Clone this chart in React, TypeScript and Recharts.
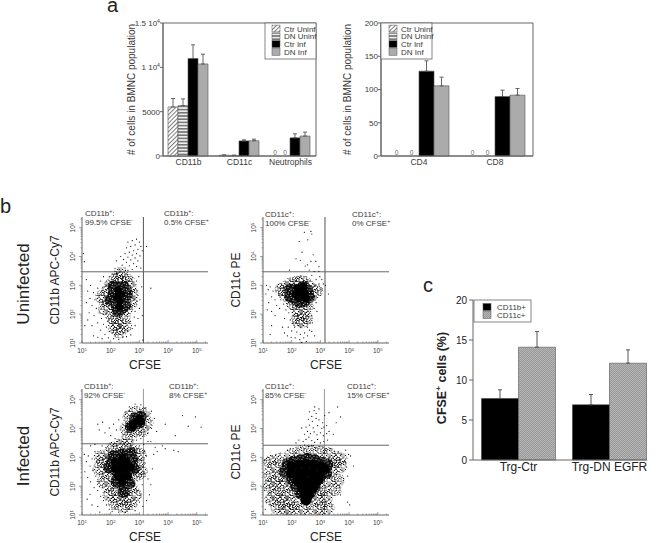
import React from 'react'
import {
  BarChart, Bar, XAxis, YAxis, ErrorBar, ScatterChart, Scatter, ReferenceLine, ReferenceArea, Rectangle,
} from 'recharts'

const FONT = '"Liberation Sans", Arial, sans-serif'
const INK = '#3a3a3a'
const AXIS = '#666'

// panel a, left
const cellCats = ['CD11b', 'CD11c', 'Neutrophils']
const cellCtrUninf = [5530, 90, 0]
const cellDnUninf = [5680, 70, 0]
const cellCtrInf = [10985, 1700, 2050]
const cellDnInf = [10380, 1720, 2250]
const cellCtrUninfErr = [950, 30, null]
const cellDnUninfErr = [760, 20, null]
const cellCtrInfErr = [1550, 120, 450]
const cellDnInfErr = [1100, 180, 440]
const cellTicks = [0, 5000, 10000, 15000]

// panel a, right
const tCats = ['CD4', 'CD8']
const tCtrUninf = [0, 0]
const tDnUninf = [0, 0]
const tCtrInf = [127.6, 89.4]
const tDnInf = [105.5, 91.5]
const tCtrInfErr = [15.5, 9.6]
const tDnInfErr = [13.1, 10]
const tTicks = [0, 50, 100, 150, 200]

// panel c
const cfseCats = ['Trg-Ctr', 'Trg-DN EGFR']
const cfseCd11b = [7.69, 6.9]
const cfseCd11c = [14.1, 12.1]
const cfseCd11bErr = [1.08, 1.29]
const cfseCd11cErr = [1.95, 1.66]
const cfseTicks = [0, 5, 10, 15, 20]

// panel b: events as decade positions
const decadeTicks = [1, 2, 3, 4, 5]
const minorSteps = [2, 3, 4, 5, 6, 7, 8, 9]

const p1Solid = [[2.28,2.65],[2.32,2.45],[2.2,2.55],[2.38,2.7],[2.25,2.85],[2.3,2.25]]
const p1Core = [[2.25,2.6],[2.35,2.45],[2.15,2.45],[2.3,2.75],[2.4,2.7],[2.2,2.3],[2.35,2.2],[2.1,2.7],[2.45,2.5],[2.28,2.92],[2.25,2.1],[2,2.5],[2.55,2.7],[2.5,2.3],[2.1,2.95],[2.45,2.95]]
const p1Mid = [[1.85,2.5],[1.9,2.8],[1.95,2.3],[2,3],[2.05,1.95],[2.15,1.8],[2.2,3.2],[2.3,1.6],[2.3,3.25],[2.4,3.05],[2.45,1.9],[2.55,2.2],[2.6,2.7],[2.65,2.95],[2.7,2.4],[2.35,3.4],[2.3,1.4],[1.8,2.2],[1.7,2.6],[2.75,2.7],[2.15,1.55],[2.5,1.6],[2.6,3.15]]
const p1Sparse = [[2.9,4.6],[2.75,4.55],[2.6,4.5],[3,4.5],[2.85,4.4],[2.7,4.35],[3.05,4.35],[2.55,4.3],[2.95,4.25],[2.8,4.2],[2.65,4.15],[3.1,4.2],[2.5,4.1],[2.9,4.1],[2.75,4.05],[3.02,4.02],[2.6,3.98],[2.85,3.95],[2.45,3.9],[2.7,3.88],[2.95,3.85],[2.55,3.8],[2.8,3.75],[2.4,3.7],[2.65,3.68],[2.9,3.65],[2.5,3.6],[2.75,3.55],[2.3,3.55],[2.6,3.52],[3.05,3.6],[2.15,3.58],[3.25,4.35],[1.08,3.82],[1.05,4.1],[2.2,3.85],[2.35,4],[3.4,2.9],[1.15,3.2],[1.3,3],[1.2,2.8],[1.4,2.75],[1.28,2.55],[1.45,2.5],[1.15,2.4],[1.55,2.9],[1.6,2.65],[1.35,2.3],[1.5,2.2],[1.25,2.05],[1.6,2.05],[1.42,1.95],[1.68,1.85],[1.2,1.8],[1.55,1.7],[1.75,1.65],[1.35,1.6],[1.85,1.55],[1.1,1.6],[1.65,1.45],[1.95,1.4],[2.05,1.35],[1.8,1.3],[2.15,1.28],[2.3,1.3],[2.45,1.35],[1.92,1.18],[2.1,1.15],[2.28,1.12],[2.42,1.2],[2.6,1.4],[2.75,1.5],[2.55,1.22],[2.7,1.28],[2.85,1.6],[2.95,1.85],[3,2.2],[3.02,2.5],[2.92,2.45],[3.1,1.95],[3.08,2.95],[2.9,3.15],[2.98,3.3],[1.85,3.15],[1.95,3.3],[1.75,3.3],[2.05,3.4],[1.65,3.15],[1.9,1.75],[1.75,2],[2.85,2.1],[2.82,1.9],[2.68,1.75],[3.12,1.1],[1.55,1.2],[1.4,1.25],[1.7,1.15],[2.88,3.02],[2.72,3.2],[2.62,3.3]]

const p2Solid = [[2.3,2.75],[2.15,2.7],[2.45,2.75],[2.25,2.55],[2.4,2.95],[2.2,2.9],[2.5,2.55]]
const p2Core = [[2.3,2.75],[2.18,2.7],[2.42,2.8],[2.3,2.58],[2.15,2.85],[2.45,2.65],[2.28,2.42],[2.4,2.95],[2.05,2.72],[1.95,2.85],[2.55,2.8],[2.6,2.6],[2.15,2.5],[2.45,2.45],[1.95,2.6]]
const p2Mid = [[1.85,2.95],[1.9,2.6],[2,3.05],[2.05,2.35],[2.2,3.1],[2.2,2.15],[2.35,2],[2.35,3.1],[2.52,2.25],[2.55,3],[2.65,2.6],[2.7,2.85],[2.35,1.75],[1.75,2.75],[1.65,2.85],[2.85,2.8],[2.2,1.8],[2.5,1.85]]
const p2Sparse = [[2.44,4.84],[2.67,4.87],[2.7,4.78],[2.26,4.52],[2.56,4.58],[2.36,4.15],[2.15,3.92],[2.3,3.87],[2.75,4.06],[2.67,3.83],[2.55,3.71],[2.84,3.83],[2.95,3.65],[1.92,3.53],[2.47,3.67],[2.61,3.53],[2.78,3.48],[2.95,3.48],[1.12,3],[1.18,2.85],[1.1,2.7],[1.25,2.95],[1.3,2.6],[1.2,2.4],[1.35,2.8],[1.42,2.5],[1.5,2.95],[1.55,2.7],[1.48,2.3],[1.62,2.5],[1.65,3.05],[1.58,2.2],[1.72,2.35],[1.3,2.1],[1.15,2.15],[1.42,1.95],[1.8,2.15],[1.9,2.05],[1.75,1.85],[1.95,1.8],[2.05,1.95],[2.05,1.7],[2.15,1.8],[1.88,1.55],[2.1,1.55],[2.2,1.62],[2.3,1.55],[2.4,1.6],[2.5,1.75],[2.55,1.55],[2.6,1.9],[2.65,2.1],[2.78,2.2],[2.85,2.4],[2.92,2.7],[2.95,3.05],[3.02,2.85],[3.05,3.2],[2.98,3.3],[3.1,3.05],[3.18,3],[3.28,2.7],[2.85,3.2],[2.3,3.32],[2.5,3.3],[2.15,3.28],[2.7,3.35],[1.95,3.22],[2.88,2.1],[2.72,1.7],[2.62,1.45],[2.45,1.35],[2.3,1.3],[2.18,1.38],[2,1.42],[1.75,1.35],[1.68,1.55],[2.12,1.18],[2.28,1.12],[2.42,1.18],[2.55,1.25],[2.7,1.4],[2.8,1.25],[1.25,1.3],[1.3,1.6],[1.85,1.25],[1.98,1.2],[2.35,1.02],[2.52,1.05]]

const p3Solid = [[2.15,2.85],[2.35,2.85],[2.55,2.85],[2.15,2.6],[2.35,2.6],[2.55,2.6],[2.7,2.65],[2.25,2.35],[2.45,2.35],[2.6,2.35],[2.4,2.15],[2.42,3],[2.92,4.25],[2.8,4.15],[3,4.35],[2.75,4.05],[3.05,4.25]]
const p3Core = [[2.4,2.7],[2.25,2.75],[2.55,2.75],[2.3,2.95],[2.5,3],[2.15,2.6],[2.65,2.6],[2.4,2.4],[2.25,2.35],[2.55,2.3],[2.4,3.1],[2.05,2.85],[2.75,2.9],[2.4,2.05],[2.45,1.8],[2.92,4.25],[2.8,4.15],[3.05,4.4],[2.7,4.05],[3,4.2],[2.85,4.35],[1.95,2.65],[2.8,2.6],[2.1,3.05],[2.7,3.15],[2.2,2.15],[2.65,2.1]]
const p3Mid = [[1.75,2.85],[1.85,2.4],[1.9,3.05],[2,2.05],[2.05,3.3],[2.15,1.75],[2.3,1.55],[2.3,3.4],[2.55,1.5],[2.55,3.4],[2.72,1.9],[2.8,3.2],[2.9,2.4],[2.95,2.8],[1.95,2.6],[2.45,1.3],[2.6,3.65],[2.55,4],[2.65,4.4],[2.85,4.55],[3.15,4.5],[3.25,4.2],[3.1,3.95],[2.85,3.9],[1.6,2.6],[1.65,3],[1.75,2.15],[3,3.1],[3.05,2.5],[1.95,1.7],[2.85,1.7],[2.15,1.4],[2.7,1.4]]
const p3Sparse = [[1.08,3.1],[1.15,2.85],[1.1,2.5],[1.22,3.05],[1.28,2.7],[1.2,2.3],[1.35,2.95],[1.38,2.55],[1.3,2.15],[1.45,3.2],[1.5,2.85],[1.48,2.35],[1.42,1.95],[1.55,2.65],[1.58,3.05],[1.6,2.15],[1.55,1.85],[1.65,1.65],[1.72,2.05],[1.75,1.5],[1.8,1.8],[1.85,1.35],[1.9,1.6],[1.95,1.2],[2.02,1.45],[2.05,1.12],[2.15,1.25],[2.28,1.1],[2.38,1.18],[2.5,1.1],[2.6,1.2],[2.72,1.3],[2.85,1.15],[2.85,1.6],[2.95,1.85],[3,1.45],[3.1,2.05],[3.12,1.3],[3.15,2.45],[3.2,2.8],[3.18,3.2],[3.25,3.05],[3.3,2.25],[3.35,1.7],[3.45,2.6],[3.55,3.35],[3.62,3.2],[3.15,3.45],[3,3.4],[2.9,3.6],[3.05,3.65],[2.75,3.6],[2.3,3.6],[2.15,3.65],[2,3.75],[2.2,3.95],[2.1,4.15],[1.95,4.02],[1.6,3.95],[1.55,4.15],[1.72,4.22],[1.8,3.85],[1.45,3.45],[1.3,3.4],[1.7,3.4],[2.28,4.3],[2.5,4.55],[2.65,4.75],[2.85,4.85],[3.05,4.82],[3.2,4.72],[3.42,4.6],[3.52,4.35],[3.42,4],[3.3,3.85],[3.6,3.9],[3.9,4.15],[4.25,3.75],[4.5,4.45],[4.95,4.4],[5.15,4.05],[4.7,4.08],[3.8,3.4],[4.2,3.25],[4.35,3.2],[3.9,3.3],[3.5,3.1],[3.4,2.05],[3.25,1.5],[3.05,1.7],[1.18,1.55],[1.35,1.35],[1.55,1.3],[1.62,1.1],[1.28,1.72],[3.4,3.55],[3.3,3.55],[2.45,3.62],[2.2,3.55]]

const p4Solid = [[2,2.7],[2.25,2.75],[2.5,2.78],[2.75,2.75],[3,2.7],[3.15,2.6],[2,2.45],[2.25,2.45],[2.5,2.5],[2.75,2.45],[3,2.4],[2.2,2.2],[2.45,2.2],[2.7,2.2],[2.9,2.2],[2.35,1.95],[2.55,1.95],[2.75,1.95],[2.45,1.7],[2.6,1.7],[2.5,1.5]]
const p4Core = [[1.85,2.75],[2.05,2.85],[2.3,2.9],[2.55,2.95],[2.8,2.9],[3.05,2.8],[3.25,2.75],[1.75,2.5],[2,2.55],[2.25,2.6],[2.5,2.65],[2.75,2.6],[3,2.55],[3.2,2.45],[2,2.25],[2.25,2.3],[2.5,2.35],[2.75,2.3],[2.95,2.25],[2.15,2],[2.4,2],[2.6,2],[2.8,2],[2.3,1.75],[2.5,1.7],[2.65,1.8],[2.5,1.55]]
const p4Mid = [[1.4,2.7],[1.5,2.3],[1.6,2.9],[1.65,2],[1.8,1.7],[1.95,1.45],[2.15,1.25],[2.4,1.22],[2.7,1.25],[2.9,1.55],[3.1,1.85],[3.3,2.2],[3.45,2.6],[3.5,2.9],[3.3,3.1],[3,3.15],[2.65,3.2],[2.3,3.15],[1.95,3.05],[1.8,2.2],[2,1.8],[2.85,1.75],[1.25,2.4],[1.25,2.85],[1.25,2],[1.3,1.55],[1.4,2.1],[1.45,1.7],[1.5,1.25],[1.65,1.5],[1.75,1.22],[1.95,1.22],[3.2,1.6],[3.25,1.25],[3,1.22],[3.6,2.2],[3.7,2.7],[3.5,1.9],[3.7,2.95]]
const p4Sparse = [[1.05,2.9],[1.08,2.6],[1.1,2.2],[1.05,1.85],[1.12,1.5],[1.08,1.2],[1.18,3],[1.22,2.05],[1.2,1.75],[1.25,1.35],[1.32,3.05],[1.38,1.9],[1.35,1.6],[1.42,1.2],[1.45,3.1],[1.5,1.75],[1.52,1.45],[1.58,1.12],[1.6,3.15],[1.65,1.62],[1.72,1.25],[1.85,3.25],[1.95,3.3],[2.05,3.3],[2.15,3.35],[2.3,3.4],[2.45,3.42],[2.6,3.38],[2.75,3.4],[2.85,3.35],[2.95,3.38],[3.1,3.35],[3.2,3.3],[3.35,3.3],[3.48,3.2],[3.62,3.2],[3.72,3.1],[3.88,3.25],[3.98,3.1],[4.05,3.05],[4.15,2.7],[3.85,2.85],[3.75,2.55],[3.95,2.35],[3.8,2.2],[3.65,2.05],[3.55,1.85],[3.7,1.7],[3.95,1.45],[4.02,1.35],[3.4,1.75],[3.3,1.55],[3.4,1.3],[3.15,1.3],[3.05,1.12],[2.85,1.08],[2.45,1.05],[1.75,1.1],[2.15,3.5],[2.25,3.6],[2.4,3.55],[2.5,3.62],[2.6,3.7],[2.7,3.58],[2.8,3.52],[2.9,3.62],[3,3.5],[3.12,3.55],[3.25,3.6],[2.45,3.8],[2.55,3.9],[2.65,3.82],[2.78,3.88],[2.88,3.78],[3,3.85],[3.1,3.75],[3.22,3.82],[3.3,3.9],[3.45,3.8],[2.35,4.02],[2.5,4.05],[2.62,4.12],[2.75,4.02],[2.9,4.1],[3.05,4],[3.12,4.05],[3.22,4.1],[3.08,4.2],[2.72,4.25],[2.58,4.32],[2.7,4.42],[2.85,4.35],[2.95,4.3],[2.62,4.58],[2.78,4.62],[2.85,4.52],[2.95,4.68],[3.15,4.45],[3.3,4.55],[3.6,4.75],[3.55,4.2],[3.7,4.4],[2.8,4.75]]

const swatchNames = ['Ctr Uninf', 'DN Uninf', 'Ctr Inf', 'DN Inf']
const swatchFills = ['url(#hatchDiag)', 'url(#hatchFlat)', '#000', '#ababab']
const cfseNames = ['CD11b+', 'CD11c+']
const cfseFills = ['#000', 'url(#stipple)']

const minorTicks = decadeTicks.flatMap((d) => minorSteps.map((m) => d + Math.log10(m))).filter((t) => t < 5.39)
const facsTicks = [...decadeTicks, ...minorTicks]

// tile for the speckled areas of the dot plots
const speckLight = [[1,1],[4,2],[7,0.5],[10,2.5],[13,1],[2.5,4],[6,4.5],[9,5],[12,4],[0.5,7],[4,7.5],[7.5,7],[11,7.5],[13.5,6.5],[2,10],[5.5,10],[8.5,9.5],[12,10],[1,13],[4,12.5],[7,13],[10,12.5],[13,13],[5,5.8],[9.5,11],[3,8.8],[2.6,0.4],[5.5,1.4],[8.5,2],[11.5,0.6],[0.8,2.8],[4.2,3.6],[7.4,3.4],[10.6,4.2],[13.4,3],[1.6,5.6],[7.2,5.4],[11,5.8],[2.4,7],[6,8.2],[9.4,8],[12.8,8.4],[0.6,9.4],[7,10.8],[10.8,9.4],[3,11.6],[5.8,12.4],[8.6,12],[12,12]]
const speckHoles = [[2,2],[6.5,1.2],[11,3],[4,6],[9,7],[13,8],[1.5,10],[6,11.5],[11,12.5],[8,4],[4.2,0.6],[9,1],[13,1.2],[1,4.4],[6,3.2],[12.5,5],[2.6,7.6],[6.6,6.4],[11,6],[4.6,9],[8.4,9.4],[11.6,9.6],[0.8,12.8],[3.6,12.4],[8.8,12.2],[13.2,11],[7,8],[10,4.6]]

// "a^+^b" puts the middle part in superscript
function Sup({ text, size }: { text: string; size: number }) {
  return (
    <>
      {text.split('^').map((part, i) => (
        <tspan key={i} fontSize={i % 2 ? size * 0.65 : size} dy={i === 0 ? 0 : i % 2 ? -size * 0.38 : size * 0.38}>
          {part}
        </tspan>
      ))}
    </>
  )
}

const fmtCell = (v: number) => {
  if (v === 15000) return '1.5 10^4^'
  if (v === 10000) return '1 10^4^'
  return String(v)
}

function CellTick({ x, y, payload }: any) {
  return (
    <text x={x} y={y + 3} textAnchor="end" fontFamily={FONT} fill={INK} fontSize={8}>
      <Sup text={fmtCell(payload.value)} size={8} />
    </text>
  )
}

function LogXTick({ x, y, payload }: any) {
  const major = Number.isInteger(payload.value)
  return (
    <g stroke={AXIS} fill={INK}>
      <line x1={x} x2={x} y1={y} y2={y - (major ? 3 : 1.5)} strokeWidth={0.6} />
      {major && (
        <text x={x} y={y + 10} textAnchor="middle" fontFamily={FONT} stroke="none" fontSize={6.5}>
          <Sup text={`10^${payload.value}^`} size={6.5} />
        </text>
      )}
    </g>
  )
}

function LogYTick({ x, y, payload }: any) {
  const major = Number.isInteger(payload.value)
  return (
    <g stroke={AXIS} fill={INK}>
      <line x1={x} x2={x - (major ? 3 : 1.5)} y1={y} y2={y} strokeWidth={0.6} />
      {major && (
        <text transform={`rotate(-90 ${x - 7} ${y})`} x={x - 7} y={y} textAnchor="middle" fontFamily={FONT} stroke="none" fontSize={6.5}>
          <Sup text={`10^${payload.value}^`} size={6.5} />
        </text>
      )}
    </g>
  )
}

const toPoints = (rows: number[][]) => rows.map(([x, y]) => ({ x, y }))
const dot = (r: number, fill: string) => (p: any) => <circle cx={p.cx} cy={p.cy} r={r} fill={fill} />

// zero bars have no rectangle, the figure prints a small 0 there instead
function BarOrZero(props: any) {
  if (Math.abs(props.height) < 0.01) {
    return (
      <text x={props.x + props.width / 2} y={props.y - 1.5} textAnchor="middle" fontSize={6.5} fontFamily={FONT} fill="#666">0</text>
    )
  }
  return <Rectangle {...props} />
}

function CellBars({ left, top, width, height, plot, data, ticks, domain, tickNode, label, labelDx, gap }: any) {
  return (
    <div style={{ position: 'absolute', left, top }}>
      <BarChart width={width} height={height} data={data} margin={plot} barGap={0} barCategoryGap={gap}>
        <ReferenceArea y1={domain[0]} y2={domain[1]} fill="none" stroke={AXIS} strokeWidth={1} />
        <XAxis dataKey="cat" interval={0} tickLine={false} tickSize={0} tickMargin={3} stroke={AXIS} height={height - plot.top - plot.plotH}
          tick={{ fontSize: 8.5, fontFamily: FONT, fill: INK }} />
        <YAxis width={plot.axisW} domain={domain} ticks={ticks} interval={0} stroke={AXIS} tickSize={3} tickMargin={0} tick={tickNode}
          label={{ value: label, angle: -90, position: 'center', dx: labelDx, fontSize: 10, fontFamily: FONT, fill: INK }} />
        {['ctrUninf', 'dnUninf', 'ctrInf', 'dnInf'].map((key, i) => (
          <Bar key={key} dataKey={key} fill={swatchFills[i]} stroke="#555" strokeWidth={0.6} shape={<BarOrZero />} isAnimationActive={false}>
            <ErrorBar dataKey={`${key}Err`} direction="y" width={2} stroke="#555" strokeWidth={0.9} />
          </Bar>
        ))}
      </BarChart>
    </div>
  )
}

function LegendBox({ x, y, w, h, swatchX, textX, rowY, rowH, names, fills, size }: any) {
  return (
    <g>
      <rect x={x} y={y} width={w} height={h} fill="#fff" stroke={AXIS} strokeWidth={0.8} />
      {names.map((name: string, i: number) => (
        <g key={name}>
          <rect x={swatchX} y={rowY + i * rowH - rowH / 2 + 0.5} width={8} height={rowH - 1} fill={fills[i]} stroke="#555" strokeWidth={0.5} />
          <text x={textX} y={rowY + i * rowH + 3} fontSize={size} fontFamily={FONT} fill={INK}>{name}</text>
        </g>
      ))}
    </g>
  )
}

function FacsPanel({ plotX, plotY, ylabel, solid, solidR, core, mid, sparse, vLine, hLine, vColor }: any) {
  const w = 126
  const h = 126
  const axisW = 46
  return (
    <div style={{ position: 'absolute', left: plotX - axisW, top: plotY - 4 }}>
      <ScatterChart width={axisW + w + 4} height={h + 4 + 34} margin={{ top: 4, right: 4, left: 0, bottom: 0 }}>
        <XAxis type="number" dataKey="x" domain={[1, 5.39]} ticks={facsTicks} interval={0} tickLine={false} tickSize={0} tickMargin={0} stroke={AXIS} height={34} tick={<LogXTick />}
          allowDataOverflow label={{ value: 'CFSE', position: 'center', dy: 5, fontSize: 12, fontFamily: FONT, fill: '#222' }} />
        <YAxis type="number" dataKey="y" domain={[1, 5.37]} ticks={facsTicks} interval={0} tickLine={false} tickSize={0} tickMargin={0} stroke={AXIS} width={axisW} tick={<LogYTick />}
          allowDataOverflow label={{ value: ylabel, angle: -90, position: 'center', dx: -4, fontSize: 12, fontFamily: FONT, fill: '#222' }} />
        <Scatter data={toPoints(mid)} shape={dot(7, 'url(#speckLight)')} isAnimationActive={false} />
        <Scatter data={toPoints(core)} shape={dot(6, 'url(#speckDense)')} isAnimationActive={false} />
        <Scatter data={toPoints(solid)} shape={dot(solidR, '#000')} isAnimationActive={false} />
        <Scatter data={toPoints(sparse)} shape={dot(0.6, '#000')} isAnimationActive={false} />
        <ReferenceLine x={vLine} stroke={vColor} strokeWidth={1} />
        <ReferenceLine y={hLine} stroke="#666" strokeWidth={1} />
      </ScatterChart>
    </div>
  )
}

const cellData = cellCats.map((cat, i) => ({
  cat,
  ctrUninf: cellCtrUninf[i], dnUninf: cellDnUninf[i], ctrInf: cellCtrInf[i], dnInf: cellDnInf[i],
  ctrUninfErr: cellCtrUninfErr[i] === null ? null : [0, cellCtrUninfErr[i]],
  dnUninfErr: cellDnUninfErr[i] === null ? null : [0, cellDnUninfErr[i]],
  ctrInfErr: [0, cellCtrInfErr[i]], dnInfErr: [0, cellDnInfErr[i]],
}))

const tData = tCats.map((cat, i) => ({
  cat,
  ctrUninf: tCtrUninf[i], dnUninf: tDnUninf[i], ctrInf: tCtrInf[i], dnInf: tDnInf[i],
  ctrUninfErr: null, dnUninfErr: null,
  ctrInfErr: [0, tCtrInfErr[i]], dnInfErr: [0, tDnInfErr[i]],
}))

const cfseData = cfseCats.map((cat, i) => ({
  cat,
  cd11b: cfseCd11b[i], cd11c: cfseCd11c[i],
  cd11bErr: [0, cfseCd11bErr[i]], cd11cErr: [0, cfseCd11cErr[i]],
}))

const quadLabels = [
  { x: 85, y: 216, a: 'CD11b^+^:', b: '99.5% CFSE^-^' },
  { x: 164, y: 216, a: 'CD11b^+^:', b: '0.5% CFSE^+^' },
  { x: 265, y: 217, a: 'CD11c^+^:', b: '100% CFSE^-^' },
  { x: 352, y: 217, a: 'CD11c^+^:', b: '0% CFSE^+^' },
  { x: 84, y: 389, a: 'CD11b^+^:', b: '92% CFSE^-^' },
  { x: 169, y: 389, a: 'CD11b^+^:', b: '8% CFSE^+^' },
  { x: 265, y: 389, a: 'CD11c^+^:', b: '85% CFSE^-^' },
  { x: 347, y: 389, a: 'CD11c^+^:', b: '15% CFSE^+^' },
]

export default function App() {
  return (
    <div style={{ position: 'absolute', left: 0, top: 0, width: 656, height: 543, background: '#fff', overflow: 'hidden' }}>
      <CellBars left={100} top={0} width={230} height={180} data={cellData} ticks={cellTicks} domain={[0, 15000]} tickNode={<CellTick />}
        plot={{ top: 23, right: 14, left: 0, bottom: 0, axisW: 63, plotH: 133 }} label="# of cells in BMNC population" labelDx={-0.5} gap={5} />
      <CellBars left={330} top={0} width={217} height={180} data={tData} ticks={tTicks} domain={[0, 200]}
        tickNode={{ fontSize: 8, fontFamily: FONT, fill: INK }}
        plot={{ top: 23, right: 14, left: 0, bottom: 0, axisW: 51, plotH: 133 }} label="# of cells in BMNC population" labelDx={-8} gap={8} />

      <FacsPanel plotX={82} plotY={217} ylabel="CD11b APC-Cy7" solid={p1Solid} solidR={3.5} core={p1Core} mid={p1Mid} sparse={p1Sparse} vLine={3.14} hLine={3.47} vColor="#555" />
      <FacsPanel plotX={263} plotY={217} ylabel="CD11c PE" solid={p2Solid} solidR={4} core={p2Core} mid={p2Mid} sparse={p2Sparse} vLine={3.16} hLine={3.47} vColor="#555" />
      <FacsPanel plotX={82} plotY={389} ylabel="CD11b APC-Cy7" solid={p3Solid} solidR={4} core={p3Core} mid={p3Mid} sparse={p3Sparse} vLine={3.14} hLine={3.47} vColor="#999" />
      <FacsPanel plotX={263} plotY={389} ylabel="CD11c PE" solid={p4Solid} solidR={5} core={p4Core} mid={p4Mid} sparse={p4Sparse} vLine={3.14} hLine={3.42} vColor="#999" />

      <div style={{ position: 'absolute', left: 423, top: 280 }}>
        <BarChart width={233} height={210} data={cfseData} margin={{ top: 20, right: 9, left: 0, bottom: 0 }} barGap={0} barCategoryGap={8.5}>
          <XAxis dataKey="cat" interval={0} tickLine={false} tickSize={0} stroke={AXIS} height={30} padding={{ left: 0, right: -8 }}
            tick={{ fontSize: 12, fontFamily: FONT, fill: '#222' }} tickMargin={2} />
          <YAxis width={50} domain={[0, 20]} ticks={cfseTicks} interval={0} stroke={AXIS} tickSize={4}
            tick={{ fontSize: 10, fontFamily: FONT, fill: '#222' }} />
          <Bar dataKey="cd11b" fill="#000" stroke="#333" strokeWidth={0.5} isAnimationActive={false}>
            <ErrorBar dataKey="cd11bErr" direction="y" width={2} stroke="#555" strokeWidth={1} />
          </Bar>
          <Bar dataKey="cd11c" fill="url(#stipple)" stroke="#555" strokeWidth={0.6} isAnimationActive={false}>
            <ErrorBar dataKey="cd11cErr" direction="y" width={2} stroke="#555" strokeWidth={1} />
          </Bar>
        </BarChart>
      </div>

      <svg width={656} height={543} style={{ position: 'absolute', left: 0, top: 0, pointerEvents: 'none' }}>
        <defs>
          <pattern id="hatchDiag" width={3} height={3} patternUnits="userSpaceOnUse" patternTransform="rotate(45)">
            <rect width={3} height={3} fill="#fff" />
            <line x1={0} x2={0} y1={0} y2={3} stroke="#444" strokeWidth={1.4} />
          </pattern>
          <pattern id="hatchFlat" width={3.2} height={3.2} patternUnits="userSpaceOnUse">
            <rect width={3.2} height={3.2} fill="#eee" />
            <line x1={0} x2={3.2} y1={0.8} y2={0.8} stroke="#666" strokeWidth={1.4} />
          </pattern>
          <pattern id="stipple" width={2} height={2} patternUnits="userSpaceOnUse">
            <rect width={2} height={2} fill="#b6b6b6" />
            <rect width={1} height={1} fill="#989898" />
            <rect x={1} y={1} width={1} height={1} fill="#989898" />
          </pattern>
          <pattern id="speckLight" width={14} height={14} patternUnits="userSpaceOnUse">
            {speckLight.map(([x, y]) => <circle key={`${x}-${y}`} cx={x} cy={y} r={0.6} fill="#000" />)}
          </pattern>
          <pattern id="speckDense" width={14} height={14} patternUnits="userSpaceOnUse">
            <rect width={14} height={14} fill="#111" />
            {speckHoles.map(([x, y]) => <circle key={`${x}-${y}`} cx={x} cy={y} r={0.5} fill="#fff" />)}
          </pattern>
        </defs>

        <LegendBox x={265} y={23} w={51} h={36} swatchX={272} textX={284} rowY={28.5} rowH={7.8} names={swatchNames} fills={swatchFills} size={8} />
        <LegendBox x={381} y={23} w={51} h={36} swatchX={389} textX={401} rowY={28.5} rowH={7.8} names={swatchNames} fills={swatchFills} size={8} />
        <LegendBox x={474} y={300} w={57} h={22} swatchX={483} textX={497} rowY={307} rowH={8} names={cfseNames} fills={cfseFills} size={8} />

        <g fontFamily={FONT} fill="#222">
          <text x={107} y={12} fontSize={20}>a</text>
          <text x={0} y={213} fontSize={20}>b</text>
          <text x={423} y={292} fontSize={20}>c</text>
          <text transform="rotate(-90 29 284)" x={29} y={284} fontSize={17} textAnchor="middle">Uninfected</text>
          <text transform="rotate(-90 29 456)" x={29} y={456} fontSize={17} textAnchor="middle">Infected</text>
          <text transform="rotate(-90 446 378)" x={446} y={378} fontSize={12.5} fontWeight="bold" textAnchor="middle">
            <Sup text="CFSE^+^ cells (%)" size={12.5} />
          </text>
        </g>
        <g fontFamily={FONT} fill={INK}>
          {quadLabels.map((q) => (
            <g key={`${q.x}-${q.y}`}>
              <text x={q.x} y={q.y} fontSize={8}><Sup text={q.a} size={8} /></text>
              <text x={q.x} y={q.y + 9} fontSize={8}><Sup text={q.b} size={8} /></text>
            </g>
          ))}
        </g>
      </svg>
    </div>
  )
}
